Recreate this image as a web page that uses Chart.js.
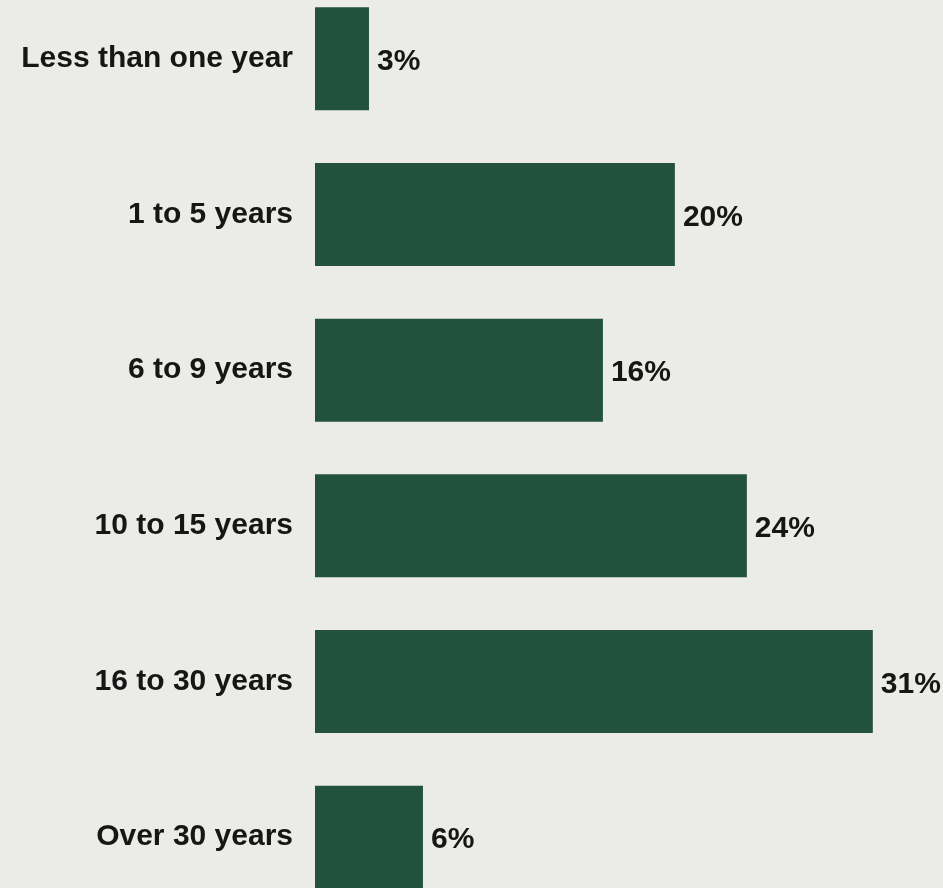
<!DOCTYPE html>
<html>
<head>
<meta charset="utf-8">
<script src="https://cdn.jsdelivr.net/npm/chart.js@4"></script>
<style>
  html, body { margin: 0; padding: 0; background: #ebebe8; overflow: hidden; }
  .wrap { position: relative; width: 943px; height: 888px; overflow: hidden; }
  .wrap canvas { position: absolute; left: 0; top: -19px; }
</style>
</head>
<body>
<div class="wrap">
  <canvas id="yearsChart" width="943" height="934"></canvas>
</div>
<script>
const categories = ['Less than one year', '1 to 5 years', '6 to 9 years', '10 to 15 years', '16 to 30 years', 'Over 30 years'];
const shares = [3, 20, 16, 24, 31, 6];

const labelFont = { family: '"Liberation Sans", Arial, sans-serif', size: 30, weight: 'bold' };

// percent text just past the end of every bar
const valueLabels = {
  id: 'valueLabels',
  afterDatasetsDraw(chart) {
    const ctx = chart.ctx;
    const meta = chart.getDatasetMeta(0);
    ctx.save();
    ctx.font = 'bold 30px "Liberation Sans", Arial, sans-serif';
    ctx.fillStyle = '#161616';
    ctx.textAlign = 'left';
    ctx.textBaseline = 'middle';
    meta.data.forEach((bar, i) => {
      ctx.fillText(shares[i] + '%', bar.x + 8, bar.y + 3);
    });
    ctx.restore();
  }
};

new Chart(document.getElementById('yearsChart'), {
  type: 'bar',
  data: {
    labels: categories,
    datasets: [{
      data: shares,
      backgroundColor: '#22523f',
      borderWidth: 0,
      categoryPercentage: 1,
      barPercentage: 0.662
    }]
  },
  options: {
    indexAxis: 'y',
    responsive: false,
    animation: false,
    layout: { padding: 0 },
    plugins: {
      legend: { display: false },
      tooltip: { enabled: false }
    },
    scales: {
      x: {
        display: false,
        min: 0,
        max: 34.9
      },
      y: {
        grid: { display: false, drawTicks: false },
        border: { display: false },
        ticks: {
          color: '#161616',
          font: labelFont,
          padding: 22
        },
        afterFit(scale) {
          // fixed label column, no extra room above/below the bars
          scale.width = 315;
          scale.paddingTop = 0;
          scale.paddingBottom = 0;
        }
      }
    }
  },
  plugins: [valueLabels]
});
</script>
</body>
</html>
